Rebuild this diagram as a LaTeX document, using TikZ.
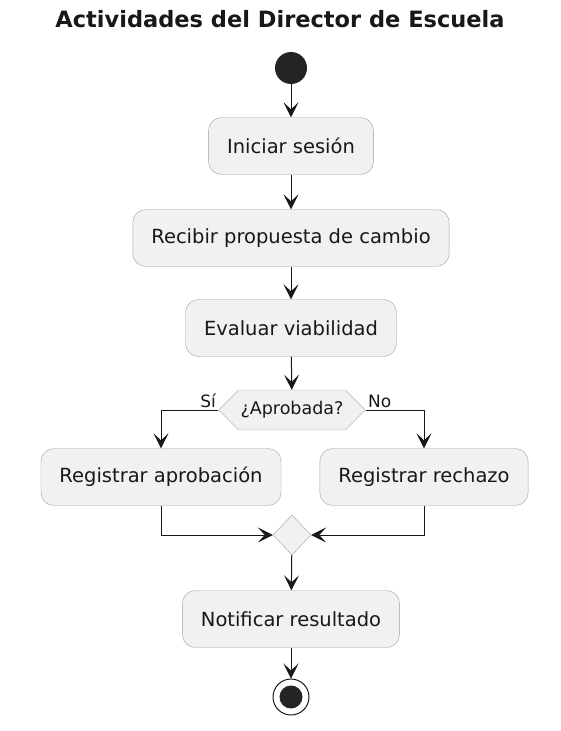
\documentclass[tikz,border=0pt]{standalone}
\usepackage{fontspec}
\setmainfont{DejaVu Sans}
\usetikzlibrary{arrows.meta,shapes.geometric,shapes.symbols}
\definecolor{boxfill}{HTML}{F1F1F1}
\definecolor{ink}{HTML}{181818}
\begin{document}
\begin{tikzpicture}[x=1pt,y=-1pt,
  act/.style={draw=gray!75,fill=boxfill,rounded corners=13pt,minimum height=57pt,inner xsep=18.5pt,font=\fontsize{19.5}{23}\selectfont,text=ink},
  arr/.style={draw=ink,line width=1pt,-{Stealth[length=15pt,width=15pt,inset=7pt]}},
  lbl/.style={font=\fontsize{17}{20}\selectfont,text=ink,inner sep=2pt}]
  \useasboundingbox (0,0) rectangle (560,731);
  \node[font=\bfseries\fontsize{22.5}{27}\selectfont,text=ink] (title) at (280,19) {Actividades del Director de Escuela};
  \node[circle,fill=ink!95,minimum size=32pt,inner sep=0] (start) at (291,68) {};
  \node[act] (ini) at (291,146) {Iniciar sesión};
  \node[act] (rec) at (291,238) {Recibir propuesta de cambio};
  \node[act] (eva) at (291,328) {Evaluar viabilidad};
  \node[signal,signal to=west and east,signal pointer angle=90,draw=gray!75,fill=boxfill,minimum height=40pt,inner xsep=2pt,font=\fontsize{17.5}{20}\selectfont,text=ink] (dec) at (292,410) {¿Aprobada?};
  \node[act] (apr) at (161,477) {Registrar aprobación};
  \node[act] (rech) at (424,477) {Registrar rechazo};
  \node[diamond,draw=gray!75,fill=boxfill,minimum width=38pt,minimum height=40pt,inner sep=0] (mrg) at (292,535) {};
  \node[act] (noti) at (291,619) {Notificar resultado};
  \node[circle,draw=ink,line width=1pt,minimum size=36pt,inner sep=0] (fin) at (291,697) {};
  \node[circle,fill=ink!95,minimum size=23pt,inner sep=0] (finin) at (fin) {};
  \draw[arr] (start) -- (ini);
  \draw[arr] (ini) -- (rec);
  \draw[arr] (rec) -- (eva);
  \draw[arr] (eva) -- (dec);
  \draw[arr] (dec.west) node[lbl,above left] {Sí} -| (apr.north);
  \draw[arr] (dec.east) node[lbl,above right] {No} -| (rech.north);
  \draw[arr] (apr.south) |- (mrg.west);
  \draw[arr] (rech.south) |- (mrg.east);
  \draw[arr] (mrg) -- (noti);
  \draw[arr] (noti) -- (fin);
\end{tikzpicture}
\end{document}
